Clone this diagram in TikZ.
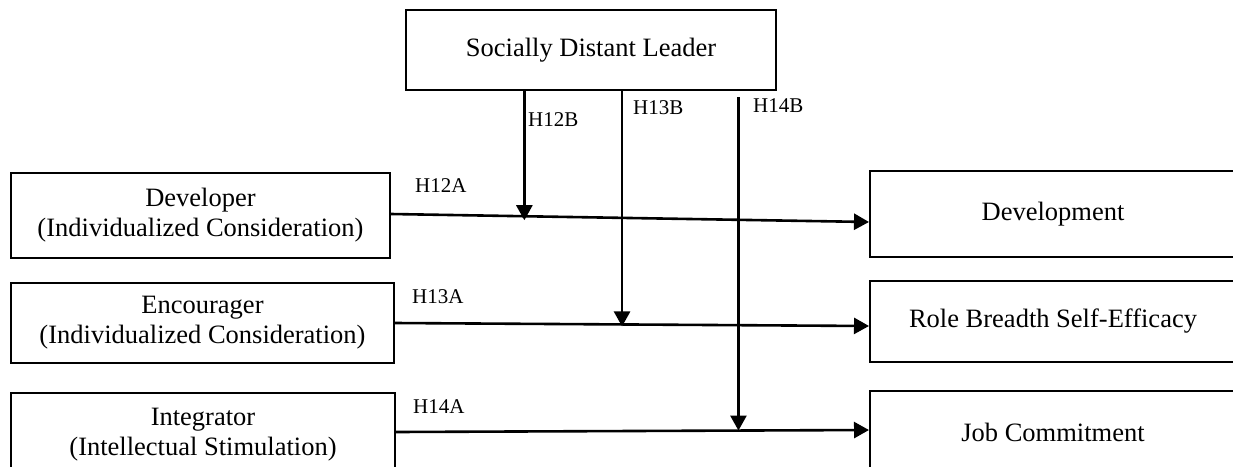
\documentclass[tikz,border=0pt]{standalone}
\usepackage{fontspec}
\setmainfont{Liberation Serif}
\usetikzlibrary{arrows.meta,calc}
\begin{document}
\begin{tikzpicture}[x=1pt,y=-1pt,
  box/.style={draw, line width=2pt, rectangle, inner sep=0pt, align=center,
    font=\fontsize{26.5}{30}\selectfont},
  lab/.style={inner sep=0pt, anchor=west, font=\fontsize{21}{24}\selectfont},
  arr/.style={line width=2.6pt, -{Triangle[length=15pt,width=16pt]}}]
\useasboundingbox (0,0) rectangle (1233,466);
% nodes
\node[box, minimum width=370pt, minimum height=80pt] (leader) at (591,50) {Socially Distant Leader};
\node[box, minimum width=379pt, minimum height=85pt] (dev) at (200.5,215.5) {Developer\\(Individualized Consideration)};
\node[box, minimum width=383pt, minimum height=80pt] (enc) at (202.5,323) {Encourager\\(Individualized Consideration)};
\node[box, minimum width=384pt, minimum height=84pt] (int) at (203,435) {Integrator\\(Intellectual Stimulation)};
\node[box, minimum width=366pt, minimum height=86pt] (devt) at (1053,214) {Development};
\node[box, minimum width=366pt, minimum height=81pt] (rbse) at (1053,321.5) {Role Breadth Self-Efficacy};
\node[box, minimum width=366pt, minimum height=82pt] (jc) at (1053,432) {Job Commitment};
% arrow end points
\coordinate (a1) at ([yshift=1.5pt]dev.east);
\coordinate (b1) at ([yshift=-8pt]devt.west);
\coordinate (a2) at (enc.east);
\coordinate (b2) at ([yshift=-4.5pt]rbse.west);
\coordinate (a3) at ([yshift=3pt]int.east);
\coordinate (b3) at ([yshift=2pt]jc.west);
\coordinate (m12) at ($(a1)!0.279!(b1)$);
\coordinate (m13) at ($(a2)!0.479!(b2)$);
\coordinate (m14) at ($(a3)!0.724!(b3)$);
% horizontal arrows
\draw[arr] (a1) -- (b1);
\draw[arr] (a2) -- (b2);
\draw[arr] (a3) -- (b3);
% vertical arrows
\draw[arr] (leader.south -| m12) -- ([yshift=-4pt]m12);
\draw[arr] (leader.south -| m13) -- ([yshift=-2pt]m13);
\draw[arr] ([yshift=-6pt]leader.south -| m14) -- (m14);
% labels
\node[lab] (l12b) at (528,120) {H12B};
\node[lab] (l13b) at (633,108) {H13B};
\node[lab] (l14b) at (753,106) {H14B};
\node[lab] (l12a) at (415,186) {H12A};
\node[lab] (l13a) at (412,297) {H13A};
\node[lab] (l14a) at (413,407) {H14A};
\end{tikzpicture}
\end{document}
